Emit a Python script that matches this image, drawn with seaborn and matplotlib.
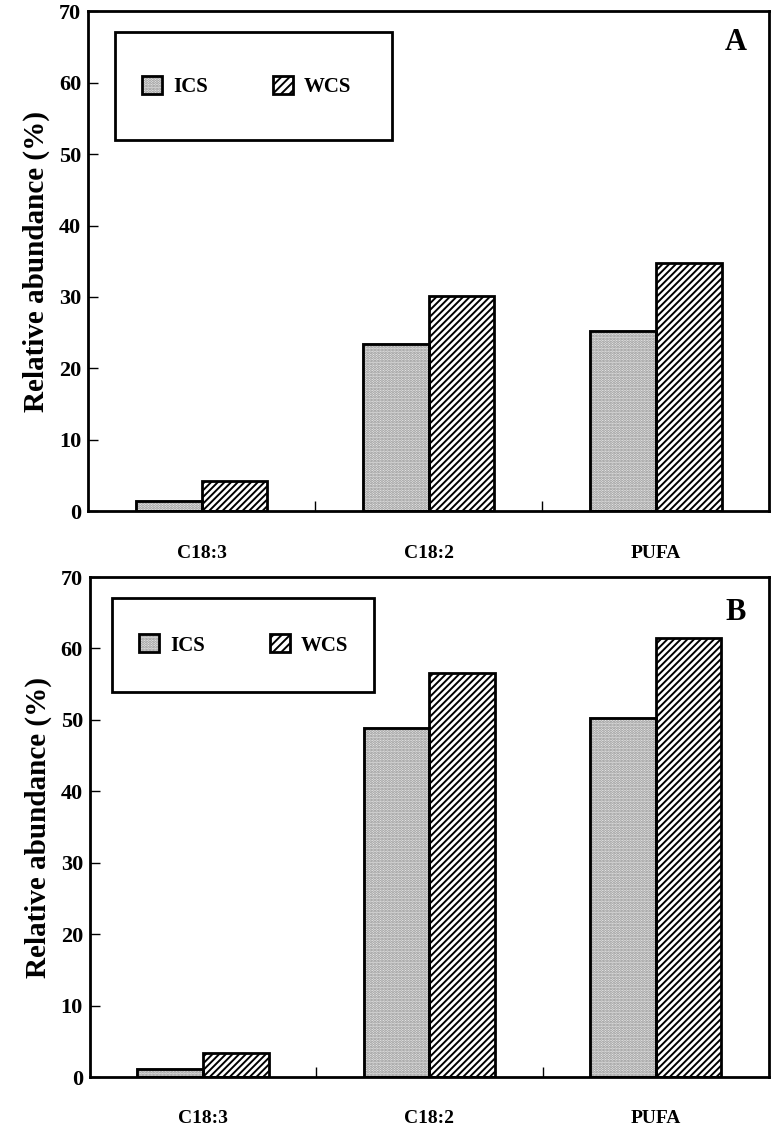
import pandas as pd
import seaborn as sns
import matplotlib.pyplot as plt
from matplotlib.patches import Patch, Rectangle
from matplotlib.legend_handler import HandlerTuple

categories = ["C18:3", "C18:2", "PUFA"]
groups = ["ICS", "WCS"]
ics_a = [1.4, 23.4, 25.2]
wcs_a = [4.2, 30.2, 34.8]
ics_b = [1.1, 48.8, 50.3]
wcs_b = [3.3, 56.6, 61.5]
yticks = [0, 10, 20, 30, 40, 50, 60, 70]

ics_face = "#ececec"
ics_dots = "#8c8c8c"

sns.set_style("white")
plt.rcParams['font.family'] = ['Liberation Serif', 'DejaVu Serif']
plt.rcParams['font.weight'] = 'bold'
plt.rcParams['hatch.linewidth'] = 1.4
for k in ['text.color', 'axes.labelcolor', 'xtick.color', 'ytick.color']:
    plt.rcParams[k] = 'black'

fig = plt.figure(figsize=(7.75, 11.26), dpi=100)
ax_a = fig.add_axes([0.1135, 0.546, 0.879, 0.444])
ax_b = fig.add_axes([0.1160, 0.0435, 0.876, 0.444])


def draw_panel(ax, ics, wcs, letter, box, letter_y):
    df = pd.DataFrame({
        "cat": categories * 2,
        "grp": [groups[0]] * 3 + [groups[1]] * 3,
        "val": ics + wcs,
    })
    sns.barplot(data=df, x="cat", y="val", hue="grp", hue_order=groups,
                palette=[ics_face, "white"], width=0.58, ax=ax,
                edgecolor="black", linewidth=2, legend=False)
    # stippled bars: grey dots, then a black outline on top
    for bar in ax.containers[0]:
        bar.set_hatch("......")
        bar.set_edgecolor(ics_dots)
        ax.add_patch(Rectangle(bar.get_xy(), bar.get_width(), bar.get_height(),
                               fill=False, edgecolor="black", linewidth=2, zorder=3))
    for bar in ax.containers[1]:
        bar.set_hatch("/////")
        bar.set_edgecolor("black")

    ax.set_xlim(-0.5, 2.5)
    ax.set_ylim(0, 70)
    ax.set_yticks(yticks)
    ax.set_yticklabels([str(t) for t in yticks], fontsize=16, fontweight='bold')
    ax.set_xticks([0, 1, 2])
    ax.set_xticklabels(categories, fontsize=14, fontweight='bold')
    ax.set_xticks([0.5, 1.5], minor=True)
    ax.tick_params(axis='x', which='major', length=0, pad=24)
    ax.tick_params(axis='x', which='minor', direction='in', length=7, width=1, bottom=True)
    ax.tick_params(axis='y', direction='in', length=7, width=1, left=True, pad=5)
    ax.set_xlabel("")
    ax.set_ylabel("Relative abundance (%)", fontsize=21, fontweight='bold', labelpad=6)
    for s in ax.spines.values():
        s.set_linewidth(2)
        s.set_color("black")

    ax.text(0.951, letter_y, letter, transform=ax.transAxes, ha='center', va='center',
            fontsize=22, fontweight='bold')

    x0, y0, x1, y1 = box
    ax.add_patch(Rectangle((x0, y0), x1 - x0, y1 - y0, transform=ax.transAxes,
                           fill=False, edgecolor="black", linewidth=2, zorder=5))
    h_ics = (Patch(facecolor=ics_face, edgecolor=ics_dots, hatch="......", linewidth=0),
             Patch(fill=False, edgecolor="black", linewidth=2))
    h_wcs = Patch(facecolor="white", edgecolor="black", hatch="////", linewidth=2)
    ax.legend([h_ics, h_wcs], groups, loc='center left',
              handler_map={tuple: HandlerTuple(ndivide=1, pad=0)},
              bbox_to_anchor=(x0 + 0.012, (y0 + y1) / 2), ncol=2, frameon=False,
              handlelength=0.95, handleheight=0.95, handletextpad=0.55,
              columnspacing=3.1, prop={'size': 15, 'weight': 'bold'})


draw_panel(ax_a, ics_a, wcs_a, "A", (0.04, 0.742, 0.447, 0.958), 0.938)
draw_panel(ax_b, ics_b, wcs_b, "B", (0.033, 0.77, 0.418, 0.958), 0.93)

fig.savefig("out.png", dpi=100)
